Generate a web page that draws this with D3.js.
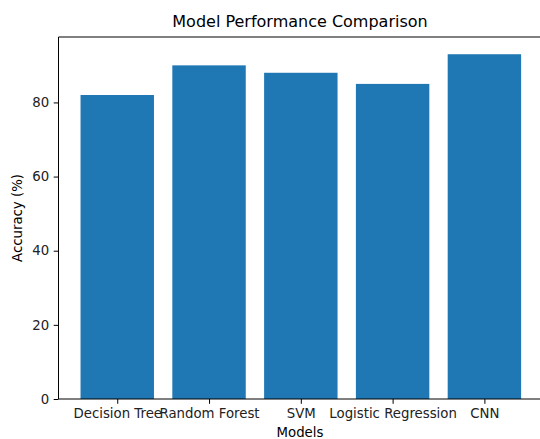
<!DOCTYPE html>
<html lang="en">
<head>
<meta charset="UTF-8">
<title>Model Performance Comparison</title>
<script src="https://d3js.org/d3.v7.min.js"></script>
<style>
    body { margin: 0; background: #fff; }
    svg, svg text { font-family: "DejaVu Sans", sans-serif; }
    .axis text { font-size: 13.3px; fill: #222; font-family: "DejaVu Sans", sans-serif; }
    .axis path, .axis line { stroke: #000; stroke-width: 1px; }
</style>
</head>
<body>
<svg id="canvas" width="540" height="439"></svg>
<script>
    // data
    let models = ["Decision Tree", "Random Forest", "SVM", "Logistic Regression", "CNN"]
    let accuracy = [82, 90, 88, 85, 93]
    let yTicks = [0, 20, 40, 60, 80]

    let svg = d3.select('#canvas')
    let padLeft = 58.5, padTop = 37, padBottom = 399
    let step = 91.6

    // matplotlib-like linear x: bar i centered at i, margins 5%
    let x = d3.scaleLinear()
        .domain([-0.64, 4.64])
        .range([padLeft, padLeft + 5.28 * step + 1])
    let y = d3.scaleLinear()
        .domain([0, d3.max(accuracy) * 1.05])
        .range([padBottom, padTop])

    svg.append('g')
        .selectAll('rect')
        .data(accuracy)
        .enter()
        .append('rect')
        .attr('x', (d, i) => x(i - 0.4))
        .attr('width', (d, i) => x(i + 0.4) - x(i - 0.4))
        .attr('y', d => y(d))
        .attr('height', d => y(0) - y(d))
        .attr('fill', '#1f77b4')

    let xAxis = svg.append('g')
        .attr('class', 'axis')
        .attr('font-family', null)
        .attr('transform', `translate(0,${padBottom})`)
        .call(d3.axisBottom(x)
            .tickValues(d3.range(models.length))
            .tickFormat(i => models[i])
            .tickSizeInner(4.8).tickSizeOuter(0).tickPadding(4.5))
    xAxis.select('.domain').remove()

    let yAxis = svg.append('g')
        .attr('class', 'axis')
        .attr('transform', `translate(${padLeft},0)`)
        .call(d3.axisLeft(y)
            .tickValues(yTicks)
            .tickSizeInner(4.8).tickSizeOuter(0).tickPadding(4.5))
    yAxis.select('.domain').remove()

    // spines
    let xEnd = x.range()[1]
    let spines = svg.append('g').attr('stroke', '#000').attr('stroke-width', 1)
    spines.append('line').attr('x1', padLeft).attr('x2', padLeft).attr('y1', padTop).attr('y2', padBottom)
    spines.append('line').attr('x1', padLeft).attr('x2', xEnd).attr('y1', padBottom).attr('y2', padBottom)
    spines.append('line').attr('x1', padLeft).attr('x2', xEnd).attr('y1', padTop).attr('y2', padTop)
    spines.append('line').attr('x1', xEnd).attr('x2', xEnd).attr('y1', padTop).attr('y2', padBottom)

    let cx = 300
    svg.append('text')
        .attr('x', cx).attr('y', 27)
        .attr('text-anchor', 'middle')
        .style('font-size', '16px')
        .text('Model Performance Comparison')

    svg.append('text')
        .attr('x', cx).attr('y', 437)
        .attr('text-anchor', 'middle')
        .style('font-size', '13.3px')
        .text('Models')

    svg.append('text')
        .attr('transform', `translate(22,${(padTop + padBottom) / 2}) rotate(-90)`)
        .attr('text-anchor', 'middle')
        .style('font-size', '13.3px')
        .text('Accuracy (%)')
</script>
</body>
</html>
